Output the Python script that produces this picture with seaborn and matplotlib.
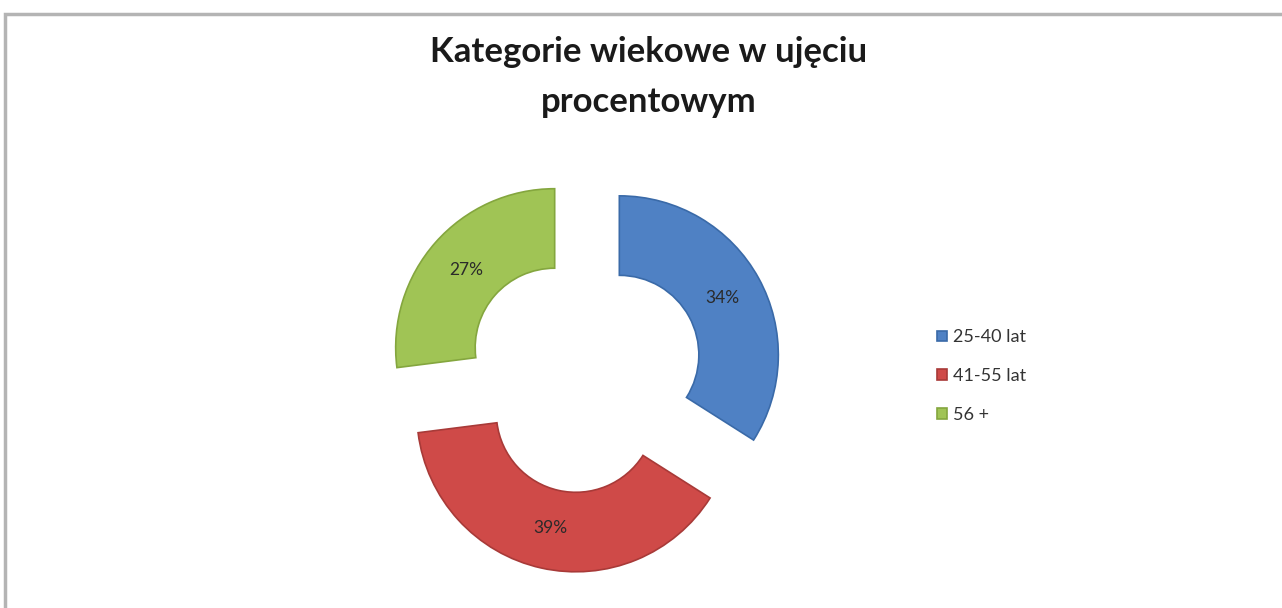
import matplotlib
matplotlib.use("Agg")
import matplotlib.pyplot as plt
import matplotlib.patches as mpatches
import seaborn as sns

sns.set_theme(style="white")
plt.rcParams['font.family'] = ['Lato', 'DejaVu Sans']

# ----- data -----
categories = ['25-40 lat', '41-55 lat', '56 +']
shares = [34, 39, 27]
colors = ['#4f81c4', '#cf4a48', '#a0c455']
edges = ['#3a6aa8', '#a83a38', '#84a63e']

W, H = 1282, 608
fig = plt.figure(figsize=(W / 100, H / 100), dpi=100)
ax = fig.add_axes([0, 0, 1, 1])

# pie centre and size in pixel units (y from the bottom)
cx, cy, R = 584.5, H - 374, 159
# explode is absolute (data units), so scale it by the radius
wedges, texts, autotexts = ax.pie(
    shares, colors=colors, startangle=90, counterclock=False,
    explode=[0.25 * R] * 3, radius=R, center=(cx, cy), frame=True,
    autopct='%1.0f%%', pctdistance=0.74,
    wedgeprops=dict(width=R * 0.5, linewidth=1.2),
    textprops=dict(fontsize=12.5, color='#2a2a2a'))
for w, e in zip(wedges, edges):
    w.set_edgecolor(e)

ax.set_xlim(0, W)
ax.set_ylim(0, H)
ax.set_aspect('equal')
ax.axis('off')

fig.text(649 / W, 1 - 77 / H, 'Kategorie wiekowe w ujęciu\nprocentowym',
         ha='center', va='center', fontsize=25, fontweight='bold',
         color='#1a1a1a', linespacing=1.7)

leg = ax.legend(wedges, categories, loc='center left',
                bbox_to_anchor=(930 / W, 1 - 376 / H), frameon=False,
                fontsize=13, handlelength=0.55, handleheight=0.55,
                handletextpad=0.35, labelspacing=1.25, borderaxespad=0)
for t in leg.get_texts():
    t.set_color('#333333')

# grey chart frame (cut by the right and bottom edges)
fig.patches.append(mpatches.Rectangle(
    (5 / W, -0.05), 1.1, 1 - 14 / H + 0.05, transform=fig.transFigure,
    fill=False, edgecolor='#b4b4b4', linewidth=2.5))

fig.savefig('out.png', dpi=100)
